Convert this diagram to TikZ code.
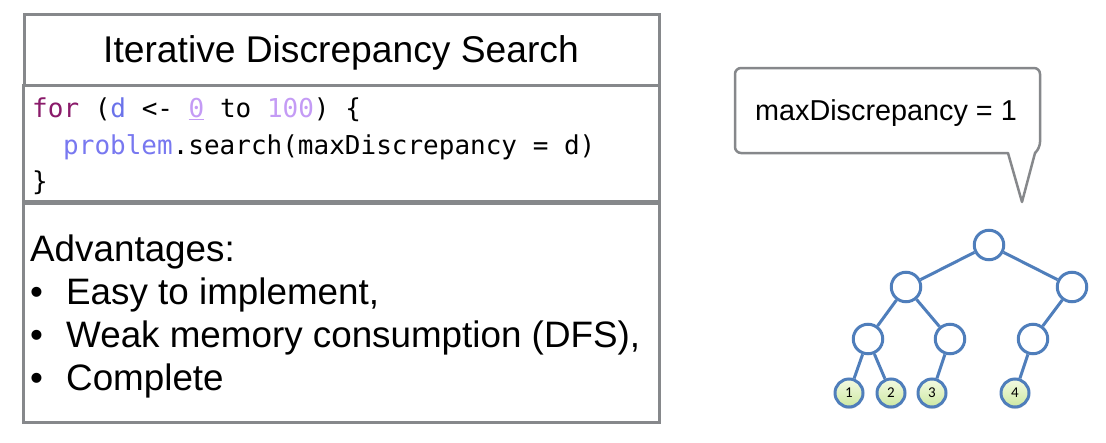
\documentclass[tikz,border=0pt]{standalone}
\usepackage{fontspec}
\setmainfont{Liberation Sans}
\newfontfamily\codefont{DejaVu Sans Mono}
\newfontfamily\leaffont{Carlito}
\usetikzlibrary{shadows}
\definecolor{boxgray}{HTML}{86888B}
\definecolor{kwcol}{HTML}{8A1B6A}
\definecolor{varcol}{HTML}{6A72EA}
\definecolor{numcol}{HTML}{C49BF5}
\definecolor{objcol}{HTML}{7878F0}
\definecolor{treeblue}{HTML}{4F7EBB}
\definecolor{leaftop}{HTML}{F3FAE2}
\definecolor{leafbot}{HTML}{CDE8A2}
\tikzset{
  panel/.style={draw=boxgray, line width=3pt},
  txt/.style={inner sep=0pt, anchor=base west},
  codeline/.style={txt, font=\codefont\fontsize{26}{30}\selectfont},
  advline/.style={txt, font=\fontsize{36.8}{40}\selectfont},
  inner/.style={circle, draw=treeblue, line width=3pt, fill=white, minimum size=29.5pt, inner sep=0pt},
  leaf/.style={circle, draw=treeblue, line width=3pt, top color=leaftop, bottom color=leafbot, minimum size=28pt, inner sep=0pt, font=\leaffont\fontsize{15}{15}\selectfont,
    drop shadow={shadow xshift=0pt, shadow yshift=-2pt, opacity=0.25}},
  edge/.style={draw=treeblue, line width=3pt},
  callout/.style={draw=boxgray, line width=2.5pt, line join=round}
}
\begin{document}
\begin{tikzpicture}[x=1pt, y=-1pt]
\useasboundingbox (0,0) rectangle (1106,442);
% panels
\draw[panel] (24,14) rectangle (659,85.5);
\draw[panel] (23,85.5) rectangle (659,201.5);
\draw[panel] (23,203.5) rectangle (659,422.5);
\node[inner sep=0pt, anchor=base, font=\fontsize{37.2}{40}\selectfont] (title) at (341,62) {Iterative Discrepancy Search};
% code
\node[codeline] (c1) at (32,117) {\textcolor{kwcol}{for} (\textcolor{varcol}{d} <- \textcolor{numcol}{\underline{0}} to \textcolor{numcol}{100}) \{};
\node[codeline] (c2) at (63,154) {\textcolor{objcol}{problem}.search(maxDiscrepancy = d)};
\node[codeline] (c3) at (32,190) {\}};
% advantages
\node[advline] (a0) at (30,261) {Advantages:};
\node[advline] (a1) at (30,304) {\makebox[36pt][l]{•}Easy to implement,};
\node[advline] (a2) at (30,347) {\makebox[36pt][l]{•}Weak memory consumption (DFS),};
\node[advline] (a3) at (30,390) {\makebox[36pt][l]{•}Complete};
% callout
\draw[callout] (1022,202) -- (1008,153) [rounded corners=6pt] -- (735,153) -- (735,68) -- (1040,68) -- (1040,148) [sharp corners] -- (1035,153) -- cycle;
\node[inner sep=0pt, anchor=base, font=\fontsize{28.8}{30}\selectfont] (lbl) at (886,120) {maxDiscrepancy = 1};
% tree
\node[inner] (r) at (989,245) {};
\node[inner] (l1) at (906,287) {};
\node[inner] (r1) at (1072,287) {};
\node[inner] (l2a) at (868,339) {};
\node[inner] (l2b) at (950,339) {};
\node[inner] (l2c) at (1033,339) {};
\node[leaf] (f1) at (849,393) {1};
\node[leaf] (f2) at (891,393) {2};
\node[leaf] (f3) at (932,393) {3};
\node[leaf] (f4) at (1015,393) {4};
\draw[edge] (r) -- (l1);
\draw[edge] (r) -- (r1);
\draw[edge] (l1) -- (l2a);
\draw[edge] (l1) -- (l2b);
\draw[edge] (r1) -- (l2c);
\draw[edge] (l2a) -- (f1);
\draw[edge] (l2a) -- (f2);
\draw[edge] (l2b) -- (f3);
\draw[edge] (l2c) -- (f4);
\end{tikzpicture}
\end{document}
